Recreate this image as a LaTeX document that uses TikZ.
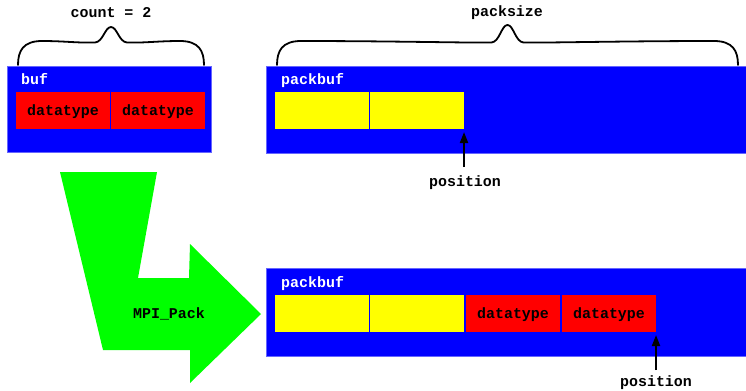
\documentclass[tikz,border=0pt]{standalone}
\usepackage{fontspec}
\setmonofont{Liberation Mono}
\usetikzlibrary{arrows.meta}
\definecolor{bufblue}{RGB}{0,0,255}
\definecolor{cellred}{RGB}{255,0,0}
\definecolor{cellyellow}{RGB}{255,255,0}
\definecolor{packgreen}{RGB}{0,255,0}
\tikzset{
  lbl/.style={font=\fontsize{15}{17}\selectfont\ttfamily\bfseries, inner sep=0pt},
  bufbox/.style={fill=bufblue, draw=bufblue!60!white, line width=0.4bp},
  redcell/.style={fill=cellred},
  yelcell/.style={fill=cellyellow},
  ptr/.style={line width=2bp, -{Triangle[length=11bp,width=8bp]}},
  bracestyle/.style={line width=1.8bp, line cap=round},
}
% curly brace from x=#1 to x=#2, feet at y=#3, tip at y=#4 (y grows downwards)
\newcommand{\curlybrace}[4]{%
  \pgfmathsetmacro{\bxm}{(#1+#2)/2}%
  \pgfmathsetmacro{\bfl}{#3-24}%
  \draw[bracestyle] (#1,#3)
    .. controls (#1,#3-14) and (#1+5,\bfl) .. (#1+24,\bfl)
    .. controls ({(#1+\bxm)/2},\bfl) and (\bxm-35,\bfl+2) .. (\bxm-16,\bfl+1.5)
    .. controls (\bxm-8,\bfl+1) and (\bxm-6,#4) .. (\bxm,#4)
    .. controls (\bxm+6,#4) and (\bxm+8,\bfl+1) .. (\bxm+16,\bfl+1.5)
    .. controls (\bxm+35,\bfl+2) and ({(#2+\bxm)/2},\bfl) .. (#2-24,\bfl)
    .. controls (#2-5,\bfl) and (#2,#3-14) .. (#2,#3);}
\begin{document}
\begin{tikzpicture}[x=1bp, y=-1bp]
\useasboundingbox (0,0) rectangle (746,390);

% source buffer
\path[bufbox] (7,66) rectangle (211,152);
\node[lbl, white, anchor=base west] (buflbl) at (21,84) {buf};
\path[redcell] (16,92) rectangle (110,129);
\path[redcell] (111,92) rectangle (205,129);
\node[lbl, anchor=base] (dt1) at (63,115) {datatype};
\node[lbl, anchor=base] (dt2) at (158,115) {datatype};
\curlybrace{18}{204}{65}{27}
\node[lbl, anchor=base] (count) at (111,17) {count = 2};

% pack buffer before
\path[bufbox] (266,66) rectangle (746,153);
\node[lbl, white, anchor=base west] (pb1lbl) at (281,84) {packbuf};
\path[yelcell] (275,92) rectangle (369,129);
\path[yelcell] (370,92) rectangle (464,129);
\curlybrace{277}{738}{65}{25}
\node[lbl, anchor=base] (packsize) at (507,16) {packsize};
\coordinate (tip1) at (464,132);
\node[lbl, anchor=base] (pos1) at (465,186) {position};
\draw[ptr] (464,167) -- (tip1);

% pack buffer after
\path[bufbox] (266,268) rectangle (746,356);
\node[lbl, white, anchor=base west] (pb2lbl) at (281,287) {packbuf};
\path[yelcell] (275,295) rectangle (369,332);
\path[yelcell] (370,295) rectangle (464,332);
\path[redcell] (466,295) rectangle (560,332);
\path[redcell] (562,295) rectangle (656,332);
\node[lbl, anchor=base] (dt3) at (513,318) {datatype};
\node[lbl, anchor=base] (dt4) at (609,318) {datatype};
\coordinate (tip2) at (656,335);
\node[lbl, anchor=base] (pos2) at (656,386) {position};
\draw[ptr] (656,370) -- (tip2);

% MPI_Pack arrow
\fill[packgreen] (60,172) -- (157,172) -- (138,278) -- (189,278) -- (190,244)
  -- (261,314) -- (190,383) -- (190,350) -- (103,350) -- cycle;
\node[lbl, anchor=base] (mpipack) at (169,318) {MPI\_Pack};
\end{tikzpicture}
\end{document}
